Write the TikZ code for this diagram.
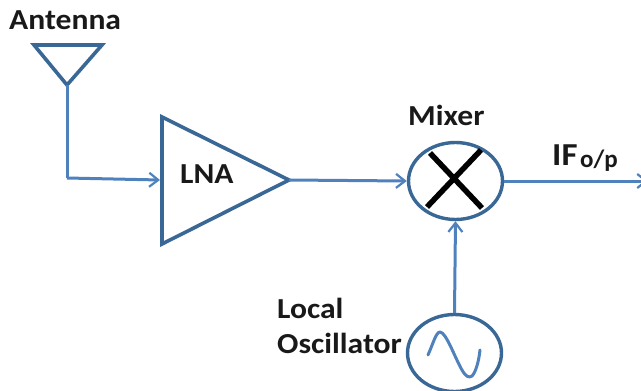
\documentclass[tikz,border=0pt]{standalone}
\usepackage{fontspec}
\setmainfont[FakeStretch=1.09]{Carlito}
\newfontfamily\plainlabel{Carlito}
\usetikzlibrary{shapes.geometric,arrows.meta}
\definecolor{shapeblue}{RGB}{58,104,150}
\definecolor{wireblue}{RGB}{79,129,189}
\definecolor{labelink}{RGB}{25,25,25}
\tikzset{
  x=1pt,y=-1pt,
  shapeline/.style={draw=shapeblue,line width=3.6pt,line join=miter},
  roundblock/.style={ellipse,draw=shapeblue,line width=3.4pt,inner sep=0pt,minimum width=94pt,minimum height=77pt,fill=white},
  wire/.style={draw=wireblue,line width=3pt},
  wirearrow/.style={wire,-{Straight Barb[length=9pt,width=14pt,line width=2.2pt]}},
  caption/.style={font=\bfseries\fontsize{29}{34}\selectfont,text=labelink,inner sep=0pt},
  crossbar/.style={draw=black,line width=5.5pt},
}
\begin{document}
\begin{tikzpicture}
\clip (0,0) rectangle (641,391);
\coordinate (antL) at (34,45);
\coordinate (antR) at (102,45);
\coordinate (antTip) at (67,85);
\coordinate (bend) at (67,178);
\coordinate (lnaTop) at (162,117);
\coordinate (lnaBot) at (162,244);
\coordinate (lnaTip) at (289,180);
\coordinate (lnaIn) at (160,180);
\coordinate (out) at (648,181);
\coordinate (xa) at (430,153);
\coordinate (xb) at (482,208);
\coordinate (xc) at (481,150);
\coordinate (xd) at (427,207);
\node[roundblock] (mixer) at (455.5,181) {};
\node[roundblock] (osc) at (454.5,353) {};
\draw[shapeline] (antL) -- (antR) -- (antTip) -- cycle;
\draw[shapeline] (lnaTop) -- (lnaTip) -- (lnaBot) -- cycle;
\draw[wire] (antTip) -- (bend);
\draw[wirearrow] (bend) -- (lnaIn);
\draw[wirearrow] (lnaTip) -- (mixer.west);
\draw[wirearrow] (mixer.east) -- (out);
\draw[wirearrow] (osc.north) -- (mixer.south);
\draw[crossbar] (xa) -- (xb) (xc) -- (xd);
\draw[wire,line cap=round,line join=round] (428,355) .. controls (433,344) and (436,332) .. (440,332) .. controls (446,332) and (455,358) .. (462,370) .. controls (466,377) and (469,378) .. (472,376) .. controls (476,372) and (479,360) .. (480,350);
\node[caption,anchor=base west] (antenna) at (9,29) {Antenna};
\node[caption,anchor=base west] (lna) at (180,183) {LNA};
\node[caption,anchor=base west] (mix) at (408,125) {Mixer};
\node[caption,anchor=base west] (local) at (277,318) {Local};
\node[caption,anchor=base west] (oscl) at (277,353) {Oscillator};
\node[caption,anchor=base west,font=\bfseries\fontsize{32}{34}\selectfont] (ifl) at (552,165) {IF};
\node[caption,anchor=base west,font=\plainlabel\bfseries\fontsize{25}{28}\selectfont] (op) at (580,167) {o/p};
\end{tikzpicture}
\end{document}
